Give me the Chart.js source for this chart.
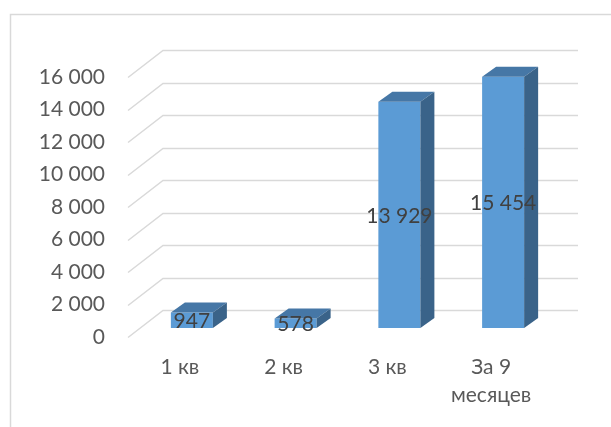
<!DOCTYPE html>
<html>
<head>
<meta charset="utf-8">
<script src="https://cdn.jsdelivr.net/npm/chart.js@4/dist/chart.umd.min.js"></script>
<style>
  body { margin: 0; background: #fff; }
  canvas { display: block; }
</style>
</head>
<body>
<canvas id="chart" width="611" height="427"></canvas>
<script>
const categories = ['1 кв', '2 кв', '3 кв', ['За 9', 'месяцев']];
const values = [947, 578, 13929, 15454];
const yTicks = [0, 2000, 4000, 6000, 8000, 10000, 12000, 14000, 16000];

// depth of the floor / walls and of the bars (pixels)
const front = { dx: -12, dy: 9 };
const back = { dx: 23, dy: -18 };
const barDepth = { dx: 14, dy: -10 };

function fmt(v) {
    return String(v).replace(/\B(?=(\d{3})+(?!\d))/g, ' ');
}

const walls = {
    id: 'walls',
    beforeDraw(chart) {
        const ctx = chart.ctx;
        ctx.save();
        ctx.strokeStyle = '#d9d9d9';
        ctx.lineWidth = 1.5;
        ctx.strokeRect(10.5, 14.5, 700, 500);
        ctx.restore();
    },
    beforeDatasetsDraw(chart) {
        const ctx = chart.ctx;
        const x = chart.scales.x;
        const y = chart.scales.y;
        ctx.save();
        ctx.strokeStyle = '#d9d9d9';
        ctx.lineWidth = 1.5;
        yTicks.forEach(v => {
            const py = Math.round(y.getPixelForValue(v)) + 0.5;
            ctx.beginPath();
            ctx.moveTo(x.left + front.dx, py + front.dy);
            ctx.lineTo(x.left + back.dx, py + back.dy);
            ctx.lineTo(x.right + back.dx, py + back.dy);
            ctx.stroke();
        });
        ctx.restore();
    },
    afterDatasetsDraw(chart) {
        const ctx = chart.ctx;
        const bars = chart.getDatasetMeta(0).data;
        ctx.save();
        bars.forEach((bar, i) => {
            const p = bar.getProps(['x', 'y', 'base', 'width'], true);
            const l = p.x - p.width / 2;
            const r = p.x + p.width / 2;
            // top face
            ctx.fillStyle = '#4677a6';
            ctx.beginPath();
            ctx.moveTo(l, p.y);
            ctx.lineTo(l + barDepth.dx, p.y + barDepth.dy);
            ctx.lineTo(r + barDepth.dx, p.y + barDepth.dy);
            ctx.lineTo(r, p.y);
            ctx.closePath();
            ctx.fill();
            // side face
            ctx.fillStyle = '#3a6389';
            ctx.beginPath();
            ctx.moveTo(r, p.y);
            ctx.lineTo(r + barDepth.dx, p.y + barDepth.dy);
            ctx.lineTo(r + barDepth.dx, p.base + barDepth.dy);
            ctx.lineTo(r, p.base);
            ctx.closePath();
            ctx.fill();
        });
        // data labels
        ctx.fillStyle = '#404040';
        ctx.font = '21px Lato';
        ctx.textAlign = 'center';
        ctx.textBaseline = 'middle';
        bars.forEach((bar, i) => {
            const p = bar.getProps(['x', 'y', 'base'], true);
            ctx.fillText(fmt(values[i]), p.x, (p.y + p.base) / 2 + 1);
        });
        ctx.restore();
    }
};

new Chart(document.getElementById('chart'), {
    type: 'bar',
    data: {
        labels: categories,
        datasets: [{
            data: values,
            backgroundColor: '#5b9bd5',
            borderWidth: 0,
            categoryPercentage: 1,
            barPercentage: 0.405
        }]
    },
    options: {
        responsive: false,
        animation: false,
        layout: { padding: { top: 68, right: 56 } },
        plugins: {
            legend: { display: false },
            tooltip: { enabled: false }
        },
        scales: {
            x: {
                grid: { display: false, drawTicks: false },
                border: { display: false },
                afterFit(scale) { scale.height = 99; },
                ticks: {
                    color: '#595959',
                    font: { family: 'Lato', size: 21, lineHeight: 1.35 },
                    padding: 25,
                    labelOffset: front.dx,
                    maxRotation: 0,
                    autoSkip: false
                }
            },
            y: {
                min: 0,
                max: 16000,
                grid: { display: false, drawTicks: false },
                border: { display: false },
                afterFit(scale) { scale.width = 140; },
                afterBuildTicks(scale) {
                    scale.ticks = yTicks.map(v => ({ value: v }));
                },
                ticks: {
                    color: '#595959',
                    font: { family: 'Lato', size: 21 },
                    padding: 35,
                    labelOffset: front.dy,
                    callback: v => fmt(v)
                }
            }
        }
    },
    plugins: [walls]
});
</script>
</body>
</html>
